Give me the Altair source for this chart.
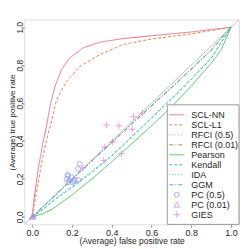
import altair as alt
import pandas as pd

# ---------------- data ----------------
methods = ["SCL-NN", "SCL-L1", "RFCI (0.5)", "RFCI (0.01)", "Pearson",
           "Kendall", "IDA", "GGM", "PC (0.5)", "PC (0.01)", "GIES"]
colors = ["#E7708E", "#DA8A4C", "#CDA34E", "#9CA63C", "#4FBE56",
          "#2EC497", "#3AC5D3", "#3FB3E6", "#8A96EB", "#BE7FE2", "#E873CE"]
dashes = [[1, 0], [3, 2], [1, 2], [4, 2, 1, 2], [1, 0],
          [3, 2], [1, 2], [4, 2, 1, 2], [1, 0], [1, 0], [1, 0]]

scl_nn_fpr = [0.0, 0.01, 0.03, 0.05, 0.072, 0.089, 0.114, 0.147, 0.189, 0.256, 0.34, 0.456, 0.6, 0.8, 1.0]
scl_nn_tpr = [0.0, 0.10, 0.25, 0.37, 0.48, 0.58, 0.687, 0.776, 0.838, 0.891, 0.921, 0.94, 0.955, 0.975, 1.0]

scl_l1_fpr = [0.0, 0.02, 0.05, 0.08, 0.097, 0.122, 0.172, 0.239, 0.34, 0.456, 0.6, 0.8, 1.0]
scl_l1_tpr = [0.0, 0.12, 0.30, 0.44, 0.50, 0.616, 0.714, 0.793, 0.855, 0.909, 0.938, 0.965, 1.0]

diag_fpr = [0.0, 0.25, 0.5, 0.75, 0.9, 1.0]
rfci05_tpr = [0.0, 0.247, 0.492, 0.733, 0.882, 1.0]
rfci001_tpr = [0.0, 0.245, 0.49, 0.73, 0.879, 1.0]
ggm_tpr = [0.0, 0.246, 0.488, 0.728, 0.878, 1.0]

mid_fpr = [0.0, 0.05, 0.1, 0.2, 0.3, 0.4, 0.5, 0.6, 0.7, 0.8, 0.9, 1.0]
kendall_tpr = [0.0, 0.035, 0.08, 0.155, 0.235, 0.32, 0.42, 0.52, 0.62, 0.725, 0.835, 1.0]
ida_tpr = [0.0, 0.038, 0.084, 0.16, 0.24, 0.325, 0.425, 0.525, 0.625, 0.73, 0.84, 1.0]

pearson_fpr = [0.0, 0.05, 0.1, 0.2, 0.3, 0.4, 0.5, 0.6, 0.7, 0.8, 0.9, 0.95, 1.0]
pearson_tpr = [0.0, 0.015, 0.04, 0.115, 0.2, 0.29, 0.385, 0.48, 0.58, 0.69, 0.81, 0.88, 1.0]

pc05_fpr = [0.239, 0.231, 0.178, 0.173, 0.189, 0.203, 0.214, 0.181, 0.198, 0.231, 0.18, 0.21]
pc05_tpr = [0.280, 0.253, 0.222, 0.200, 0.191, 0.182, 0.195, 0.182, 0.209, 0.195, 0.215, 0.188]

pc001_fpr = [0.0, 0.003, 0.005]
pc001_tpr = [0.0, 0.004, 0.006]

gies_fpr = [0.255, 0.365, 0.36, 0.403, 0.448, 0.373, 0.436, 0.503, 0.51, 0.554]
gies_tpr = [0.258, 0.368, 0.298, 0.395, 0.333, 0.484, 0.48, 0.462, 0.528, 0.546]

diag_ref = [-0.04, 1.04]

# ---------------- tables ----------------
curve_sets = [
    ("SCL-NN", scl_nn_fpr, scl_nn_tpr),
    ("SCL-L1", scl_l1_fpr, scl_l1_tpr),
    ("RFCI (0.5)", diag_fpr, rfci05_tpr),
    ("RFCI (0.01)", diag_fpr, rfci001_tpr),
    ("Pearson", pearson_fpr, pearson_tpr),
    ("Kendall", mid_fpr, kendall_tpr),
    ("IDA", mid_fpr, ida_tpr),
    ("GGM", diag_fpr, ggm_tpr),
]
rows = []
for name, xs, ys in curve_sets:
    for i, (a, b) in enumerate(zip(xs, ys)):
        rows.append({"method": name, "fpr": a, "tpr": b, "idx": i})
lines_df = pd.DataFrame(rows)

W, H = 215, 205
DOM = [-0.04, 1.04]
xscale = alt.Scale(domain=DOM, nice=False, zero=False)
yscale = alt.Scale(domain=DOM, nice=False, zero=False)
colscale = alt.Scale(domain=methods, range=colors)
dashscale = alt.Scale(domain=methods, range=dashes)

GRAY = "#9a9a9a"
FONT = "Liberation Sans"
TXT = "#1e1e1e"
ticks = [0.0, 0.2, 0.4, 0.6, 0.8, 1.0]

xaxis = alt.Axis(values=ticks, format=".1f", grid=False, domain=False,
                 tickColor=GRAY, tickSize=3, labelPadding=1,
                 labelFontSize=9, labelFont=FONT, labelColor=TXT,
                 title="(Average) false positive rate", titleFontSize=8.5,
                 titleFont=FONT, titleFontWeight="normal", titleColor=TXT,
                 titleX=W / 2, titleY=16.5, titleBaseline="middle", titleAlign="center")
yaxis = alt.Axis(values=ticks, format=".1f", grid=False, domain=False,
                 tickColor=GRAY, tickSize=3, labelPadding=1.5,
                 labelAngle=270, labelAlign="center", labelBaseline="middle",
                 labelFontSize=8.5, labelFont=FONT, labelColor=TXT,
                 title="(Average) true positive rate", titleFontSize=8,
                 titleFont=FONT, titleFontWeight="normal", titleColor=TXT,
                 titleAngle=270, titleX=-11.6, titleY=H / 2,
                 titleBaseline="middle", titleAlign="center")

X = lambda f: alt.X(f, scale=xscale, axis=xaxis)
Y = lambda f: alt.Y(f, scale=yscale, axis=yaxis)

ref_df = pd.DataFrame({"fpr": diag_ref, "tpr": diag_ref})
ref = alt.Chart(ref_df).mark_line(color="#bdbdbd", strokeWidth=1, clip=True).encode(
    x=X("fpr:Q"), y=Y("tpr:Q"))

lines = alt.Chart(lines_df).mark_line(strokeWidth=1, clip=True).encode(
    x=X("fpr:Q"), y=Y("tpr:Q"),
    color=alt.Color("method:N", scale=colscale, legend=None),
    strokeDash=alt.StrokeDash("method:N", scale=dashscale, legend=None),
    detail="method:N", order="idx:Q")

PLUS = "M-1,0L1,0M0,-1L0,1"

pc05 = alt.Chart(pd.DataFrame({"fpr": pc05_fpr, "tpr": pc05_tpr})).mark_point(
    shape="circle", filled=False, color=colors[8], size=24, strokeWidth=1).encode(
    x=X("fpr:Q"), y=Y("tpr:Q"))
pc001 = alt.Chart(pd.DataFrame({"fpr": pc001_fpr, "tpr": pc001_tpr})).mark_point(
    shape="triangle-up", filled=False, color=colors[9], size=32, strokeWidth=1).encode(
    x=X("fpr:Q"), y=Y("tpr:Q"))
gies = alt.Chart(pd.DataFrame({"fpr": gies_fpr, "tpr": gies_tpr})).mark_point(
    shape=PLUS, filled=False, color=colors[10], size=44, strokeWidth=1).encode(
    x=X("fpr:Q"), y=Y("tpr:Q"))

# ---------------- legend (layout in pixel space converted to data space) ----------------
def px2x(px):
    return DOM[0] + (px - 24.3) / W * (DOM[1] - DOM[0])

def px2y(py):
    return DOM[0] + (224 - py) / H * (DOM[1] - DOM[0])

leg_rows = []
for i, m in enumerate(methods):
    py = 114.3 + 10 * i
    leg_rows.append({"method": m, "y": px2y(py), "x1": px2x(169.5), "x2": px2x(184.5),
                     "xp": px2x(177), "xt": px2x(191.5)})
leg_df = pd.DataFrame(leg_rows)

box = alt.Chart(pd.DataFrame({"x": [px2x(167.5)], "x2": [DOM[1]],
                              "y": [px2y(104.3)], "y2": [DOM[0]]})).mark_rect(
    fill="white", stroke=GRAY, strokeWidth=1).encode(
    x=X("x:Q"), x2="x2:Q", y=Y("y:Q"), y2="y2:Q")

line_methods = methods[:8]
leg_lines = alt.Chart(leg_df[leg_df.method.isin(line_methods)]).mark_rule(strokeWidth=1).encode(
    x=X("x1:Q"), x2="x2:Q", y=Y("y:Q"),
    color=alt.Color("method:N", scale=colscale, legend=None),
    strokeDash=alt.StrokeDash("method:N", scale=dashscale, legend=None))

leg_pc05 = alt.Chart(leg_df[leg_df.method == "PC (0.5)"]).mark_point(
    shape="circle", filled=False, color=colors[8], size=24, strokeWidth=1).encode(
    x=X("xp:Q"), y=Y("y:Q"))
leg_pc001 = alt.Chart(leg_df[leg_df.method == "PC (0.01)"]).mark_point(
    shape="triangle-up", filled=False, color=colors[9], size=32, strokeWidth=1).encode(
    x=X("xp:Q"), y=Y("y:Q"))
leg_gies = alt.Chart(leg_df[leg_df.method == "GIES"]).mark_point(
    shape=PLUS, filled=False, color=colors[10], size=44, strokeWidth=1).encode(
    x=X("xp:Q"), y=Y("y:Q"))

leg_text = alt.Chart(leg_df).mark_text(align="left", baseline="middle", fontSize=9,
                                       font=FONT, color=TXT).encode(
    x=X("xt:Q"), y=Y("y:Q"), text="method:N")

chart = alt.layer(ref, lines, pc05, pc001, gies, box, leg_lines, leg_pc05, leg_pc001,
                  leg_gies, leg_text).properties(
    width=W, height=H,
    autosize=alt.AutoSizeParams(type="none"),
    padding={"left": 16.3, "top": 11.5, "right": 2, "bottom": 26},
).configure_view(stroke=GRAY, strokeWidth=1).configure(background="white")

chart.save("out.html", embed_options={"renderer": "svg", "actions": False})
